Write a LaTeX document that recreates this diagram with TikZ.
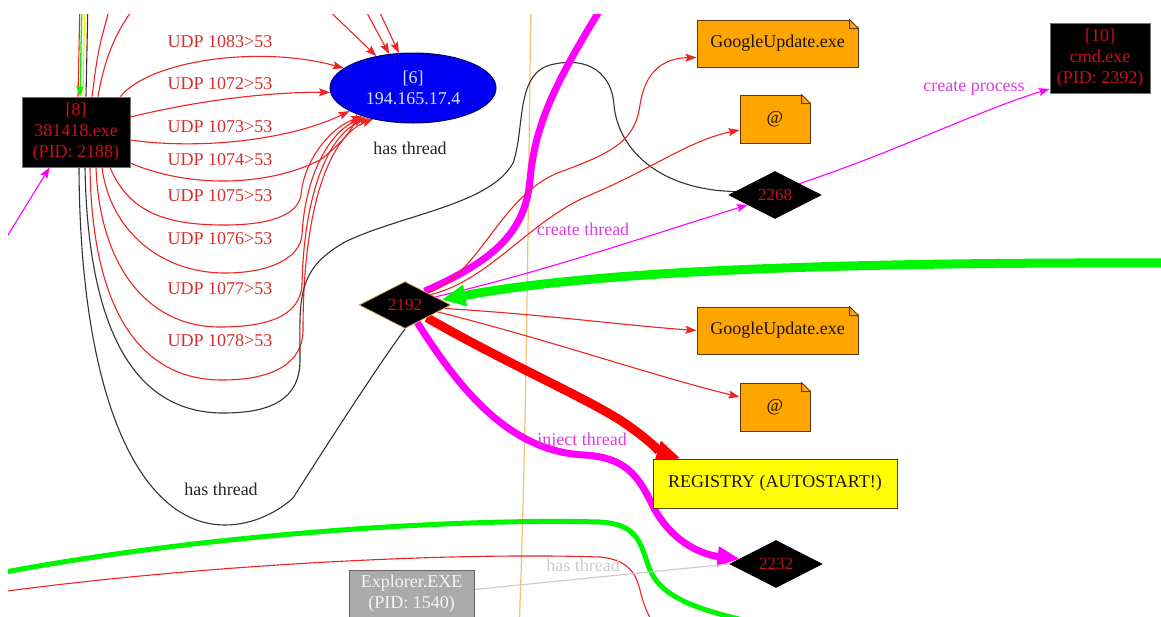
\documentclass[tikz,border=0pt]{standalone}
\usepackage{fontspec}
\setmainfont{Liberation Serif}
\usetikzlibrary{arrows.meta,shapes.geometric,calc}
\pgfdeclarelayer{bg}
\pgfsetlayers{bg,main}
\definecolor{er}{RGB}{238,35,35}
\definecolor{lbl}{RGB}{215,45,45}
\definecolor{ntxt}{RGB}{205,15,25}
\definecolor{mag}{RGB}{255,0,255}
\definecolor{magtxt}{RGB}{225,60,225}
\definecolor{grn}{RGB}{0,245,0}
\definecolor{ornote}{RGB}{255,165,0}
\definecolor{notebd}{RGB}{90,60,20}
\definecolor{ylw}{RGB}{255,255,0}
\definecolor{gbox}{RGB}{170,170,170}
\definecolor{gline}{RGB}{205,205,205}
\definecolor{oline}{RGB}{250,190,110}
\definecolor{ipblue}{RGB}{0,0,245}
\definecolor{iptxt}{RGB}{215,225,255}
\definecolor{dgold}{RGB}{215,175,95}
\newcommand\notefold[1]{%
  \fill[white] ($(#1.north east)+(-9,0)$) -- ($(#1.north east)+(1,-1)$) -- ($(#1.north east)+(0,9)$) -- cycle;
  \draw[notebd, line width=1pt, line join=round] ($(#1.north east)+(-9,0)$) -- ($(#1.north east)+(0,9)$) -- ($(#1.north east)+(-9,9)$) -- cycle;}
\tikzset{
  every node/.style={font=\fontsize{18}{21}\selectfont, inner sep=0pt},
  procbox/.style={rectangle, fill=black, draw=black!55, line width=0.8pt, text=ntxt, align=center},
  ipnode/.style={ellipse, fill=ipblue, draw=black!60!blue, line width=1pt, text=iptxt, align=center, minimum width=166pt, minimum height=70pt},
  thr/.style={diamond, fill=black, draw=black, line width=0.8pt, text=ntxt, minimum width=92pt, minimum height=47pt, font=\fontsize{17}{19}\selectfont},
  notebox/.style={rectangle, fill=ornote, draw=notebd, line width=1pt, text=black!85!brown},
  udplbl/.style={text=lbl},
  blklbl/.style={text=black!85},
  maglab/.style={text=magtxt},
  redl/.style={draw=er, line width=1.1pt},
  blk/.style={draw=black!80, line width=1.1pt},
  magl/.style={draw=mag, line width=1.1pt},
  arr/.style={-{Stealth[length=11pt,width=8pt,inset=2pt]}},
  bigarr/.style={-{Triangle[length=24pt,width=20pt]}}
}
\begin{document}
\begin{tikzpicture}[x=1pt,y=-1pt]
\useasboundingbox (0,0) rectangle (1161,616);
\begin{scope}
\clip (8,14) rectangle (1170,630);
% nodes
\node[procbox, minimum width=108pt, minimum height=70pt] (n8) at (76,132) {[8]\\381418.exe\\(PID: 2188)};
\node[ipnode] (n6) at (413,88) {[6]\\194.165.17.4};
\node[thr, draw=dgold] (d2192) at (405,305) {2192};
\node[thr] (d2268) at (775,195) {2268};
\node[thr] (d2232) at (776,564) {2232};
\node[notebox, minimum width=161pt, minimum height=47pt] (gu1) at (777.5,43.5) {GoogleUpdate.exe};
\node[notebox, minimum width=70pt, minimum height=48pt] (at1) at (775,119) {@};
\node[notebox, minimum width=161pt, minimum height=47pt] (gu2) at (777.5,330.5) {GoogleUpdate.exe};
\node[notebox, minimum width=70pt, minimum height=48pt] (at2) at (775,407) {@};
\notefold{gu1}\notefold{at1}\notefold{gu2}\notefold{at2}
\node[rectangle, fill=ylw, draw=notebd, line width=1pt, text=black!85!brown, minimum width=244pt, minimum height=49pt] (reg) at (775,483.5) {REGISTRY (AUTOSTART!)};
\node[procbox, minimum width=100pt, minimum height=70pt] (cmd) at (1100,58.5) {[10]\\cmd.exe\\(PID: 2392)};
\node[rectangle, fill=gbox, draw=black!60, line width=1pt, text=white!92!gray, align=center, minimum width=125pt, minimum height=47pt] (exp) at (411.5,593.5) {Explorer.EXE\\(PID: 1540)};
% labels
\node[udplbl] (l1083) at (220,42) {UDP 1083>53};
\node[udplbl] (l1072) at (220,84) {UDP 1072>53};
\node[udplbl] (l1073) at (220,127) {UDP 1073>53};
\node[udplbl] (l1074) at (220,160) {UDP 1074>53};
\node[udplbl] (l1075) at (220,196) {UDP 1075>53};
\node[udplbl] (l1076) at (220,239) {UDP 1076>53};
\node[udplbl] (l1077) at (220,289) {UDP 1077>53};
\node[udplbl] (l1078) at (220,341) {UDP 1078>53};
\node[blklbl] (lht1) at (410,148) {has thread};
\node[blklbl] (lht2) at (221,489) {has thread};
\node[maglab] (lct) at (583,229) {create thread};
\node[maglab] (lcp) at (974,88) {create process};
\node[maglab] (lit) at (582,441) {inject thread};
\node[text=gline] (lht3) at (583,565) {has thread};
% free ends
\coordinate (tA) at (82,0);
\coordinate (tB) at (85,0);
\coordinate (tC) at (88,0);
\coordinate (tD) at (80,0);
\coordinate (tE) at (112,0);
\coordinate (tF) at (140,0);
\coordinate (tG) at (318,0);
\coordinate (tH) at (360,0);
\coordinate (tI) at (374,0);
\coordinate (mL) at (0,248);
\coordinate (mT) at (606,0);
\coordinate (gR) at (1175,263);
\coordinate (gL) at (0,573);
\coordinate (gB) at (790,630);
\coordinate (rL) at (0,592);
\coordinate (rB) at (660,632);
\coordinate (oT) at (531,0);
\coordinate (oB) at (519,632);
\end{scope}
\begin{pgfonlayer}{bg}
\fill[white] (0,0) rectangle (1161,616);
\begin{scope}
\clip (8,14) rectangle (1170,630);
% orange vertical
\draw[oline, line width=1.2pt] (oT) .. controls (528,200) and (527,420) .. (oB);
% bottom lines
\draw[grn, line width=5pt] (gL) .. controls (200,535) and (450,518) .. (600,522) .. controls (635,524) and (640,540) .. (648,565) .. controls (660,600) and (700,612) .. (gB);
\draw[redl] (rL) .. controls (200,565) and (450,552) .. (600,557) .. controls (630,560) and (636,575) .. (640,590) .. controls (645,610) and (650,620) .. (rB);
% top stubs into [8]
\draw[redl] (tD) -- ($(n8.north)+(2,0)$);
\draw[draw=grn, line width=1.3pt, arr] (tA) -- ($(n8.north)+(4,0)$);
\draw[draw=ylw!70!orange, line width=1pt] (tB) -- ($(n8.north)+(7,0)$);
\draw[blk] (tC) -- ($(n8.north)+(10,0)$);
\draw[redl] ($(n8.north)+(16,0)$) .. controls (98,50) .. (tE);
\draw[redl] ($(n8.north)+(22,0)$) .. controls (106,50) and (120,25) .. (tF);
% from top into ellipse
\draw[redl, arr] (tG) -- (n6.139);
\draw[redl, arr] (tH) -- (n6.125);
\draw[redl, arr] (tI) -- (n6.112);
% magenta from left
\draw[magl, arr] (mL) -- ($(n8.south west)+(28,0)$);
% UDP edges
\draw[redl, arr] ($(n8.north east)+(-10,0)$) .. controls (150,60) and (260,45) .. (n6.164);
\draw[redl, arr] ($(n8.east)+(0,-15)$) .. controls (200,100) and (270,92) .. (n6.183);
\draw[redl, arr] ($(n8.east)+(0,8)$) .. controls (200,150) and (290,140) .. (n6.200);
\draw[redl, arr] ($(n8.east)+(0,31)$) .. controls (180,185) and (260,190) .. (320,160) .. controls (340,145) and (352,130) .. (n6.205);
\draw[redl, arr] ($(n8.south)+(34,0)$) .. controls (130,215) and (170,225) .. (225,225) .. controls (270,225) and (298,215) .. (301,195) .. controls (304,160) and (330,128) .. (n6.209);
\draw[redl, arr] ($(n8.south)+(26,0)$) .. controls (110,230) and (160,273) .. (225,273) .. controls (270,273) and (300,258) .. (302,235) .. controls (305,175) and (330,130) .. (n6.212);
\draw[redl, arr] ($(n8.south)+(20,0)$) .. controls (100,270) and (150,327) .. (220,327) .. controls (270,327) and (300,315) .. (302,285) .. controls (304,190) and (330,132) .. (n6.215);
\draw[redl, arr] ($(n8.south)+(14,0)$) .. controls (92,310) and (140,380) .. (222,380) .. controls (275,380) and (303,362) .. (303,330) .. controls (303,200) and (332,135) .. (n6.218);
% has thread curves
\draw[blk] ($(n8.south)+(9,0)$) .. controls (88,340) and (140,413) .. (223,413) .. controls (270,413) and (300,400) .. (300,360) .. controls (300,300) and (295,270) .. (345,242) .. controls (400,215) and (490,205) .. (513,163) .. controls (525,130) and (515,75) .. (550,65) .. controls (590,55) and (612,75) .. (614,105) .. controls (618,150) and (660,190) .. (d2268.175);
\draw[blk] ($(n8.south)+(3,0)$) .. controls (80,400) and (140,525) .. (225,525) .. controls (255,525) and (280,510) .. (293,498) .. controls (330,440) and (375,370) .. (d2192.south);
% from 2192
\draw[draw=mag, line width=7pt] (d2192.35) .. controls (490,262) and (525,235) .. (530,180) .. controls (535,120) and (560,75) .. (mT);
\draw[redl, arr] (d2192.28) .. controls (480,275) and (500,195) .. (560,172) .. controls (615,152) and (635,140) .. (640,105) .. controls (645,70) and (665,58) .. ($(gu1.south west)+(0,-10)$);
\draw[redl, arr] (d2192.22) .. controls (490,280) and (530,220) .. (590,195) .. controls (650,170) and (690,140) .. ($(at1.west)+(0,11)$);
\draw[magl, arr] (d2192.15) .. controls (550,270) and (650,235) .. (d2268.200);
\draw[magl, arr] (d2268.25) .. controls (900,150) and (980,110) .. ($(cmd.south west)+(0,-5)$);
\draw[draw=grn, line width=9pt, bigarr] (gR) .. controls (850,262) and (600,270) .. (d2192.8);
\draw[redl, arr] (d2192.-5) .. controls (550,315) and (620,325) .. (gu2.west);
\draw[redl, arr] (d2192.-12) .. controls (550,340) and (650,375) .. ($(at2.west)+(0,-10)$);
\draw[draw=red, line width=9pt, bigarr] (d2192.-30) .. controls (500,360) and (580,395) .. (620,420) .. controls (650,440) and (660,452) .. ($(reg.north west)+(28,0)$);
\draw[draw=mag, line width=7pt, -{Triangle[length=22pt,width=19pt]}] (d2192.-55) .. controls (460,390) and (510,452) .. (585,455) .. controls (630,458) and (640,480) .. (655,510) .. controls (675,545) and (705,555) .. (d2232.172);
\draw[draw=gline, line width=1.2pt] ($(exp.north east)+(0,20)$) -- (d2232.west);
\end{scope}
\end{pgfonlayer}
\end{tikzpicture}
\end{document}
